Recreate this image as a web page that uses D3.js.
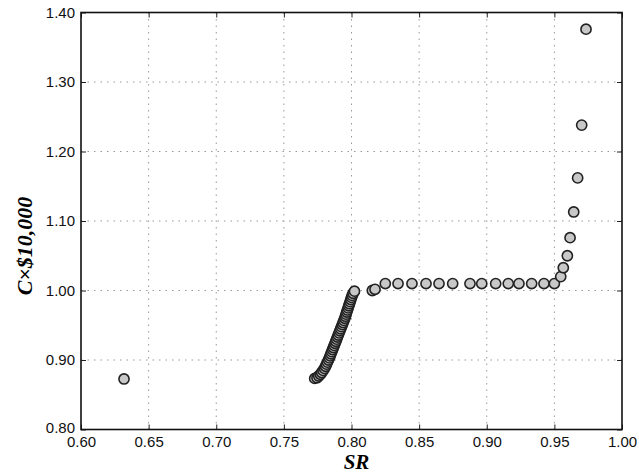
<!DOCTYPE html>
<html>
<head>
<meta charset="utf-8">
<script src="https://cdn.jsdelivr.net/npm/d3@7"></script>
<style>
  body { margin: 0; background: #fff; }
  svg { display: block; }
</style>
</head>
<body>
<div id="graph"></div>
<script>
// x ticks / y ticks
const xTicks = [0.60, 0.65, 0.70, 0.75, 0.80, 0.85, 0.90, 0.95, 1.00];
const yTicks = [0.80, 0.90, 1.00, 1.10, 1.20, 1.30, 1.40];

// SR values (x) and C x $10,000 values (y)
const srValues = [
  0.6318,
  0.7728, 0.7745, 0.7758, 0.7770, 0.7780, 0.7790, 0.7800, 0.7808, 0.7815, 0.7822,
  0.7830, 0.7836, 0.7842, 0.7848, 0.7854, 0.7860, 0.7866, 0.7872, 0.7878, 0.7884,
  0.7890, 0.7896, 0.7902, 0.7908, 0.7914, 0.7920, 0.7926, 0.7932, 0.7938, 0.7944,
  0.7950, 0.7955, 0.7960, 0.7965, 0.7970, 0.7975, 0.7980, 0.7985, 0.7990, 0.7995,
  0.8000, 0.8005, 0.8012, 0.8022,
  0.8154, 0.8174,
  0.8250, 0.8344, 0.8447, 0.8551, 0.8647, 0.8748, 0.8876, 0.8963, 0.9066, 0.9159,
  0.9238, 0.9332, 0.9423, 0.9500,
  0.9547, 0.9566, 0.9596, 0.9616, 0.9643, 0.9672, 0.9702, 0.9734
];
const costValues = [
  0.8727,
  0.8735, 0.8745, 0.8770, 0.8795, 0.8820, 0.8850, 0.8880, 0.8910, 0.8940, 0.8970,
  0.9000, 0.9030, 0.9060, 0.9090, 0.9120, 0.9150, 0.9180, 0.9210, 0.9240, 0.9270,
  0.9300, 0.9330, 0.9360, 0.9390, 0.9420, 0.9450, 0.9480, 0.9510, 0.9540, 0.9570,
  0.9600, 0.9630, 0.9660, 0.9690, 0.9720, 0.9750, 0.9780, 0.9810, 0.9840, 0.9870,
  0.9900, 0.9930, 0.9960, 0.9990,
  1.0000, 1.0017,
  1.0100, 1.0100, 1.0100, 1.0100, 1.0100, 1.0100, 1.0100, 1.0100, 1.0100, 1.0100,
  1.0100, 1.0100, 1.0100, 1.0100,
  1.0200, 1.0328, 1.0500, 1.0760, 1.1130, 1.1620, 1.2380, 1.3760
];

const width = 639, height = 476;
const plotLeft = 81, plotRight = 622, plotTop = 12.5, plotBottom = 429.5;

const svg = d3.select("#graph").append("svg")
  .attr("width", width)
  .attr("height", height);

const x = d3.scaleLinear().domain([0.6, 1.0]).range([plotLeft, plotRight]);
const y = d3.scaleLinear().domain([0.8, 1.4]).range([plotBottom, plotTop]);

// dotted grid
svg.append("g").selectAll("line.gx")
  .data(xTicks.slice(1, -1))
  .enter().append("line")
    .attr("x1", d => x(d)).attr("x2", d => x(d))
    .attr("y1", plotTop).attr("y2", plotBottom)
    .attr("stroke", "#999").attr("stroke-width", 1)
    .attr("stroke-dasharray", "1.5,5");
svg.append("g").selectAll("line.gy")
  .data(yTicks.slice(1, -1))
  .enter().append("line")
    .attr("y1", d => y(d)).attr("y2", d => y(d))
    .attr("x1", plotLeft).attr("x2", plotRight)
    .attr("stroke", "#999").attr("stroke-width", 1)
    .attr("stroke-dasharray", "1.5,5");

// axes with inward ticks
const fmt = d3.format(".2f");
const xAxis = svg.append("g")
  .attr("transform", "translate(0," + plotBottom + ")")
  .call(d3.axisBottom(x).tickValues(xTicks).tickFormat(fmt).tickSizeInner(-5).tickSizeOuter(0).tickPadding(5));
const yAxis = svg.append("g")
  .attr("transform", "translate(" + plotLeft + ",0)")
  .call(d3.axisLeft(y).tickValues(yTicks).tickFormat(fmt).tickSizeInner(-5).tickSizeOuter(0).tickPadding(6));
svg.append("g")
  .attr("transform", "translate(0," + plotTop + ")")
  .call(d3.axisTop(x).tickValues(xTicks).tickFormat("").tickSizeInner(-5).tickSizeOuter(0));
svg.append("g")
  .attr("transform", "translate(" + plotRight + ",0)")
  .call(d3.axisRight(y).tickValues(yTicks).tickFormat("").tickSizeInner(-5).tickSizeOuter(0));

svg.selectAll(".tick line").attr("stroke", "#222").attr("stroke-width", 1);
svg.selectAll(".domain").remove();
svg.selectAll(".tick text")
  .attr("font-family", "Liberation Sans, Arial, sans-serif")
  .attr("font-size", 15)
  .attr("fill", "#111");
xAxis.selectAll(".tick text").attr("dy", "0.8em");
yAxis.selectAll(".tick text").attr("dy", d => d === 0.8 ? "0.2em" : "0.32em");

// frame
svg.append("rect")
  .attr("x", plotLeft).attr("y", plotTop)
  .attr("width", plotRight - plotLeft).attr("height", plotBottom - plotTop)
  .attr("fill", "none").attr("stroke", "#111").attr("stroke-width", 1.6);

// points
svg.append("g").selectAll("circle")
  .data(srValues.map((d, i) => [d, costValues[i]]))
  .enter().append("circle")
    .attr("cx", d => x(d[0]))
    .attr("cy", d => y(d[1]))
    .attr("r", 5.1)
    .attr("fill", "#c8c8c8")
    .attr("stroke", "#222")
    .attr("stroke-width", 1.6);

// axis titles
svg.append("text")
  .attr("x", (plotLeft + plotRight) / 2 + 5).attr("y", 469)
  .attr("text-anchor", "middle")
  .attr("font-family", "Liberation Serif, Times New Roman, serif")
  .attr("font-weight", "bold").attr("font-style", "italic")
  .attr("font-size", 21)
  .text("SR");
svg.append("text")
  .attr("transform", "translate(32,246) rotate(-90)")
  .attr("text-anchor", "middle")
  .attr("font-family", "Liberation Serif, Times New Roman, serif")
  .attr("font-weight", "bold").attr("font-style", "italic")
  .attr("font-size", 22)
  .text("C×$10,000");
</script>
</body>
</html>
